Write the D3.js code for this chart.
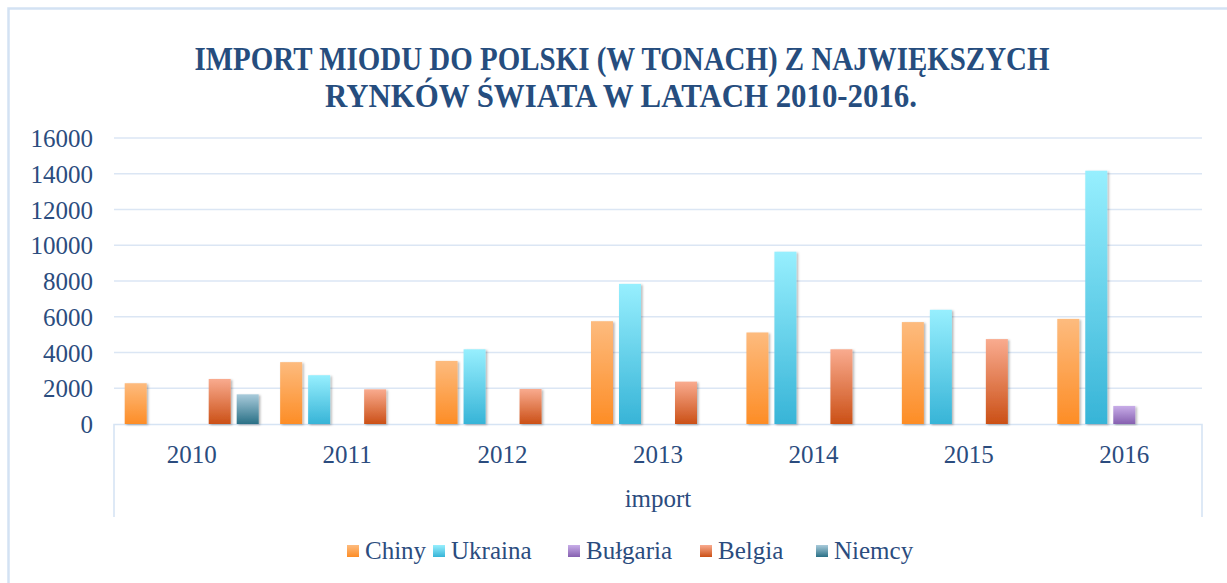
<!DOCTYPE html>
<html lang="pl">
<head>
  <meta charset="UTF-8" />
  <title>Import miodu do Polski</title>
  <script src="https://d3js.org/d3.v7.min.js"></script>
  <style>
    body { margin: 0; background: #fff; }
    svg { display: block; }
    text { font-family: "Liberation Serif", "DejaVu Serif", serif; fill: #2b4c7e; }
  </style>
</head>
<body>
  <svg id="chart" width="1227" height="583"></svg>

  <script>
    const years = ["2010", "2011", "2012", "2013", "2014", "2015", "2016"];
    const seriesNames = ["Chiny", "Ukraina", "Bułgaria", "Belgia", "Niemcy"];
    const chiny    = [2280, 3460, 3530, 5750, 5120, 5700, 5880];
    const ukraina  = [0, 2730, 4180, 7840, 9640, 6390, 14170];
    const bulgaria = [0, 0, 0, 0, 0, 0, 1010];
    const belgia   = [2520, 1940, 1960, 2370, 4180, 4750, 0];
    const niemcy   = [1660, 0, 0, 0, 0, 0, 0];
    const yTicks = [0, 2000, 4000, 6000, 8000, 10000, 12000, 14000, 16000];

    const values = [chiny, ukraina, bulgaria, belgia, niemcy];
    // top / bottom colours of each bar gradient
    const grad = [
      ["#fdbb7e", "#fd8d26"],
      ["#97effe", "#37b4d7"],
      ["#c8ade8", "#8660b0"],
      ["#f9ab8f", "#cb5016"],
      ["#a9cbdb", "#2a7086"]
    ];

    const svg = d3.select("#chart");
    const plotL = 114, plotR = 1202, plotT = 138, plotB = 424;

    const defs = svg.append("defs");
    grad.forEach((c, i) => {
      const g = defs.append("linearGradient").attr("id", "g" + i)
        .attr("x1", 0).attr("y1", 0).attr("x2", 0).attr("y2", 1);
      g.append("stop").attr("offset", "0%").attr("stop-color", c[0]);
      g.append("stop").attr("offset", "100%").attr("stop-color", c[1]);
    });
    const f = defs.append("filter").attr("id", "shadow")
      .attr("x", "-20%").attr("y", "-5%").attr("width", "150%").attr("height", "115%");
    f.append("feDropShadow").attr("dx", 1.5).attr("dy", 1).attr("stdDeviation", 1.3)
      .attr("flood-color", "#000").attr("flood-opacity", 0.3);

    // outer frame
    svg.append("path")
      .attr("d", "M8.5,583 V8.5 H1227")
      .attr("fill", "none").attr("stroke", "#d3e2f3").attr("stroke-width", 2.5);

    // title
    const title = svg.append("g").attr("text-anchor", "middle")
      .style("font-weight", "bold").style("font-size", "33px");
    title.append("text").attr("x", 622).attr("y", 70)
      .attr("textLength", 855).attr("lengthAdjust", "spacingAndGlyphs")
      .style("fill", "#264d7e")
      .text("IMPORT MIODU DO POLSKI (W TONACH) Z NAJWIĘKSZYCH");
    title.append("text").attr("x", 621).attr("y", 107)
      .attr("textLength", 592).attr("lengthAdjust", "spacingAndGlyphs")
      .style("fill", "#264d7e")
      .text("RYNKÓW ŚWIATA W LATACH 2010-2016.");

    const y = d3.scaleLinear().domain([0, 16000]).range([plotB, plotT]);
    const x0 = d3.scaleBand().domain(years).range([plotL, plotR]);
    const pad = (x0.bandwidth() - 134) / 2;
    const x1 = d3.scaleBand().domain(seriesNames)
      .range([pad, x0.bandwidth() - pad]).paddingInner(0.214);

    // gridlines
    svg.append("g").selectAll("line").data(yTicks.slice(1)).enter().append("line")
      .attr("x1", plotL).attr("x2", plotR)
      .attr("y1", d => y(d)).attr("y2", d => y(d))
      .attr("stroke", "#dbe6f4").attr("stroke-width", 1.6);

    // y labels
    const yAxis = svg.append("g").attr("transform", `translate(93,0)`)
      .call(d3.axisLeft(y).tickValues(yTicks).tickSize(0).tickPadding(0).tickFormat(d3.format("d")));
    yAxis.select(".domain").remove();
    yAxis.selectAll("text").style("font-size", "25px").attr("dy", "0.34em")
      .style("font-family", "Liberation Serif").attr("fill", "#2b4c7e");

    // category axis box
    svg.append("path")
      .attr("d", `M${plotL},517 V${plotB + 0.5} H${plotR} V517`)
      .attr("fill", "none").attr("stroke", "#d6e4f4").attr("stroke-width", 1.6);

    const xAxis = svg.append("g").attr("transform", `translate(0,463)`)
      .call(d3.axisBottom(x0).tickSize(0).tickPadding(0));
    xAxis.select(".domain").remove();
    xAxis.selectAll("text").style("font-size", "25px").attr("dy", 0)
      .style("font-family", "Liberation Serif").attr("fill", "#2b4c7e");

    svg.append("text").attr("x", (plotL + plotR) / 2).attr("y", 507)
      .attr("text-anchor", "middle").style("font-size", "25px").text("import");

    // bars
    seriesNames.forEach((s, i) => {
      svg.append("g").selectAll("rect")
        .data(years.map((yr, j) => ({ yr, v: values[i][j] })).filter(d => d.v > 0))
        .enter().append("rect")
        .attr("x", d => x0(d.yr) + x1(s))
        .attr("width", x1.bandwidth())
        .attr("y", d => y(d.v))
        .attr("height", d => plotB - y(d.v))
        .attr("fill", `url(#g${i})`)
        .attr("filter", "url(#shadow)");
    });

    // legend
    const legendX = [347, 433, 568, 700, 816];
    const legend = svg.append("g");
    seriesNames.forEach((s, i) => {
      const g = legend.append("g").attr("transform", `translate(${legendX[i]},545)`);
      g.append("rect").attr("width", 12).attr("height", 12).attr("fill", `url(#g${i})`);
      g.append("text").attr("x", 18).attr("y", 14).style("font-size", "25px").text(s);
    });
  </script>
</body>
</html>
